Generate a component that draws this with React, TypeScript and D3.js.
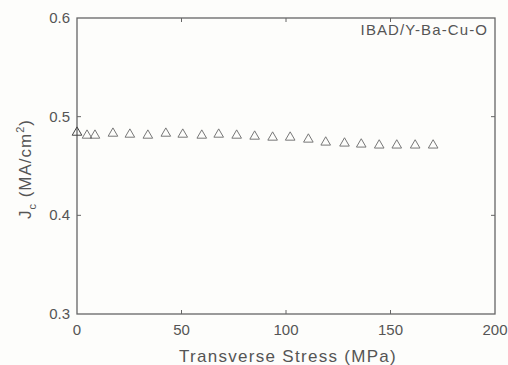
import React from "react";
import * as d3 from "d3";

const stress = [0, 4.8, 8.6, 17.2, 25.3, 33.9, 42.5, 50.6, 59.7, 67.8, 76.4, 85, 93.6, 102, 110.7, 119, 128, 136, 144.6, 153, 161.8, 170.4];
const jc = [0.484, 0.481, 0.481, 0.483, 0.482, 0.481, 0.483, 0.482, 0.481, 0.482, 0.481, 0.480, 0.479, 0.479, 0.477, 0.474, 0.473, 0.472, 0.471, 0.471, 0.471, 0.471];
const xTicks = [0, 50, 100, 150, 200];
const yTicks = [0.3, 0.4, 0.5, 0.6];

const W = 508, H = 365;
const L = 77, R = 495, T = 18, B = 314;
const font = "Helvetica, Arial, 'Liberation Sans', sans-serif";
const ink = "#555";

export default function App() {
  const x = d3.scaleLinear().domain([0, 200]).range([L, R]);
  const y = d3.scaleLinear().domain([0.3, 0.6]).range([B, T]);
  const tri = d3.symbol().type(d3.symbolTriangle).size(40);
  return (
    <svg width={W} height={H} style={{ position: "absolute", left: 0, top: 0, background: "#fdfdfb" }}>
      <rect x={0} y={0} width={W} height={H} fill="#fdfdfb" />
      <rect x={L} y={T} width={R - L} height={B - T} fill="none" stroke="#666" strokeWidth={1.3} />
      {xTicks.slice(1, -1).map(t => (
        <g key={"xt" + t}>
          <line x1={x(t)} x2={x(t)} y1={B} y2={B - 4} stroke="#666" />
          <line x1={x(t)} x2={x(t)} y1={T} y2={T + 4} stroke="#666" />
        </g>
      ))}
      {yTicks.slice(1, -1).map(t => (
        <g key={"yt" + t}>
          <line x1={L} x2={L + 4} y1={y(t)} y2={y(t)} stroke="#666" />
          <line x1={R} x2={R - 4} y1={y(t)} y2={y(t)} stroke="#666" />
        </g>
      ))}
      {xTicks.map(t => (
        <text key={"xl" + t} x={x(t)} y={B + 21} textAnchor="middle" fontFamily={font} fontSize={15} fill={ink}>{t}</text>
      ))}
      {yTicks.map(t => (
        <text key={"yl" + t} x={L - 7} y={y(t) + 5} textAnchor="end" fontFamily={font} fontSize={15} fill={ink}>{t.toFixed(1)}</text>
      ))}
      <text x={(L + R) / 2 + 2} y={362} textAnchor="middle" fontFamily={font} fontSize={17} letterSpacing={1.3} fill={ink}>Transverse Stress (MPa)</text>
      <text transform={`translate(31,${(T + B) / 2 + 3}) rotate(-90)`} textAnchor="middle" fontFamily={font} fontSize={17} letterSpacing={1} fill={ink}>
        J<tspan fontSize={11} dy={5}>c</tspan><tspan dy={-5}> (MA/cm</tspan><tspan fontSize={11} dy={-7}>2</tspan><tspan dy={7}>)</tspan>
      </text>
      <text x={488} y={35} textAnchor="end" fontFamily={font} fontSize={15} letterSpacing={1.1} fill={ink}>IBAD/Y-Ba-Cu-O</text>
      {stress.map((s, i) => (
        <path key={"p" + i} d={tri() as string} transform={`translate(${x(s)},${y(jc[i])})`} fill="none" stroke={i === 0 ? "#444" : "#777"} strokeWidth={1} />
      ))}
    </svg>
  );
}
